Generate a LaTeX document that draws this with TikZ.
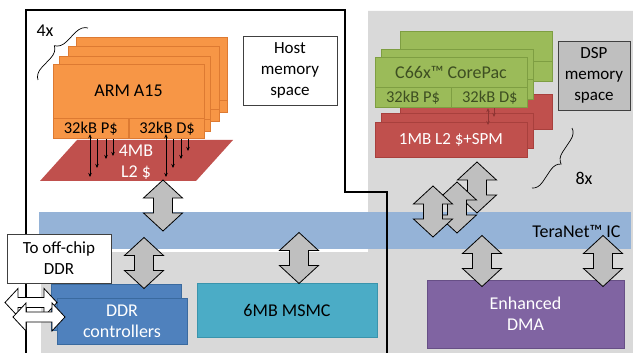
\documentclass[tikz,border=0pt]{standalone}
\usepackage{fontspec}
\setmainfont{Carlito}
\usepackage{tikz}
\usetikzlibrary{arrows.meta, positioning, decorations.pathreplacing}

\definecolor{armorange}{HTML}{F79646}
\definecolor{armedge}{HTML}{DD7A32}
\definecolor{l2red}{HTML}{C0504D}
\definecolor{spmedge}{HTML}{A8403D}
\definecolor{spmarrow}{HTML}{8E3533}
\definecolor{coregreen}{HTML}{9BBB59}
\definecolor{coreedge}{HTML}{7E9E42}
\definecolor{coretext}{HTML}{3E4F22}
\definecolor{ddrblue}{HTML}{4F81BD}
\definecolor{ddredge}{HTML}{3A6A9F}
\definecolor{msmcteal}{HTML}{4BACC6}
\definecolor{msmcedge}{HTML}{3A94AC}
\definecolor{dmapurple}{HTML}{8064A2}
\definecolor{dmaedge}{HTML}{674F86}
\definecolor{netblue}{HTML}{95B3D7}
\definecolor{dspbg}{HTML}{D9D9D9}
\definecolor{memgray}{HTML}{BFBFBF}

\begin{document}
\begin{tikzpicture}[x=1pt, y=-1pt,
    font=\fontsize{18}{21}\selectfont,
    armbox/.style={rectangle, draw=armedge, fill=armorange, line width=0.8pt, inner sep=0pt},
    cachebox/.style={armbox, minimum width=75.5pt, minimum height=20pt, font=\fontsize{16.5}{19}\selectfont},
    corebox/.style={rectangle, draw=coreedge, fill=coregreen, line width=0.8pt, inner sep=0pt, text=coretext},
    spmbox/.style={rectangle, draw=spmedge, fill=l2red, line width=0.8pt, inner sep=0pt, text=white},
    membox/.style={rectangle, draw=black!75, line width=0.8pt, align=center, inner sep=0pt, font=\fontsize{17}{21}\selectfont},
    blockbox/.style={rectangle, line width=0.8pt, align=center, inner sep=0pt},
    cachearrow/.style={-{Stealth[length=4pt, width=3.5pt]}, line width=0.7pt},
    bothways/.style={{Stealth[length=4pt, width=3.5pt]}-{Stealth[length=4pt, width=3.5pt]}, line width=0.7pt},
    pics/busarrow/.style={code={
      \draw[fill=memgray, line width=0.8pt]
        (0,-25.5) -- (19.5,-7.5) -- (9.5,-7.5) -- (9.5,7.5) -- (19.5,7.5) -- (0,25.5)
        -- (-19.5,7.5) -- (-9.5,7.5) -- (-9.5,-7.5) -- (-19.5,-7.5) -- cycle;
    }},
    pics/pinarrow/.style={code={
      \draw[fill=white, line width=0.8pt]
        (-26,0) -- (-13,-14) -- (-13,-5) -- (13,-5) -- (13,-14) -- (26,0)
        -- (13,14) -- (13,5) -- (-13,5) -- (-13,14) -- cycle;
    }}
]
\useasboundingbox (0,0) rectangle (633,353);

% memory spaces
\fill[dspbg] (368,11) -- (633,11) -- (633,353) -- (41,353) -- (41,252) -- (368,252) -- cycle;
\fill[netblue] (39,212) rectangle (631,249);
\draw[line width=2pt] (26,353) -- (26,10) -- (345,10) -- (345,192) -- (387,192) -- (387,353);

\node[membox, fill=white, minimum width=94pt, minimum height=69pt] (hostmem) at (290,70.5) {Host\\memory\\space};
\node[membox, fill=memgray, minimum width=72pt, minimum height=69pt] (dspmem) at (594,75.5) {DSP\\memory\\space};

% ARM cluster
\foreach \x/\y in {76/37, 68/46, 59/56} {
  \draw[armbox] (\x,\y) rectangle ++(151,75);
  \draw[armedge, line width=0.8pt] (\x,\y+63) -- ++(151,0);
}
\node[armbox, minimum width=151pt, minimum height=54pt] (arm) at (128.5,91) {ARM A15};
\node[cachebox, anchor=north west] (armp) at (arm.south west) {32kB P\$};
\node[cachebox, right=0pt of armp] (armd) {32kB D\$};

\fill[l2red] (77,140) -- (233,140) -- (196,181) -- (40,181) -- cycle;
\node[align=center, text=white] (l2) at (136,162) {4MB\\L2 \$};

\draw[bothways] (armp.south -| 90,0) ++(0,-5) -- (90,177);
\draw[bothways] (armd.south -| 166,0) ++(0,-5) -- (166,177);
\foreach \x/\y in {97/168, 106/159, 113/156}
  \draw[cachearrow] (armp.south -| \x,0) -- (\x,\y);
\foreach \x/\y in {173/168, 181/159, 188/151}
  \draw[cachearrow] (armd.south -| \x,0) -- (\x,\y);

\draw[decorate, decoration={brace, amplitude=12pt}, line width=0.7pt] (38,80) -- (88,28);
\node (fourx) at (45,31) {4x};

% DSP cluster
\foreach \x/\y/\r in {400/31/94, 381/49/113} {
  \draw[spmbox] (\x,\r) rectangle ++(152,35);
  \draw[corebox] (\x,\y) rectangle ++(152,50);
  \draw[coreedge, line width=0.8pt] (\x,\y+30) -- ++(152,0);
}
\node[spmbox, minimum width=152pt, minimum height=35pt, font=\fontsize{17}{21}\selectfont] (spm) at (451,139.5) {1MB L2 \$+SPM};
\node[corebox, minimum width=152pt, minimum height=30pt] (core) at (451,72) {C66x™ CorePac};
\node[corebox, minimum width=76pt, minimum height=20pt, anchor=north west, font=\fontsize{16.5}{19}\selectfont] (corep) at (core.south west) {32kB P\$};
\node[corebox, minimum width=76pt, minimum height=20pt, right=0pt of corep, font=\fontsize{16.5}{19}\selectfont] (cored) {32kB D\$};

\draw[bothways, spmarrow] (cored.south -| 488,0) -- (488,125);
\draw[cachearrow, spmarrow] (cored.south -| 494,0) -- (494,117);

\draw[decorate, decoration={brace, amplitude=11pt}, line width=0.7pt] (572,128) -- (532,188);
\node (eightx) at (584,178) {8x};

% interconnect and shared blocks
\node[anchor=east] (teranet) at (624,231) {TeraNet™ IC};

\node[blockbox, draw=ddredge, fill=ddrblue, minimum width=130pt, minimum height=46pt] (ddrback) at (116,307) {};
\node[blockbox, draw=ddredge, fill=ddrblue, text=white, minimum width=130pt, minimum height=46pt] (ddr) at (122,321) {DDR\\controllers};
\node[blockbox, draw=msmcedge, fill=msmcteal, minimum width=180pt, minimum height=54pt] (msmc) at (287,310) {6MB MSMC};
\node[blockbox, draw=dmaedge, fill=dmapurple, text=white, minimum width=197pt, minimum height=68pt] (dma) at (525.5,314) {Enhanced\\DMA};

\node[membox, fill=white, minimum width=104pt, minimum height=49pt] (offchip) at (59,258.5) {To off-chip\\DDR};

\pic at (163,205.5) {busarrow};
\pic at (144,263) {busarrow};
\pic at (299,258) {busarrow};
\pic at (482,261) {busarrow};
\pic at (603,261) {busarrow};
\pic at (477,187.5) {busarrow};
\pic at (457,207.5) {busarrow};
\pic at (433,211.5) {busarrow};

\pic at (31,302.5) {pinarrow};
\pic at (39,317) {pinarrow};
\end{tikzpicture}
\end{document}
